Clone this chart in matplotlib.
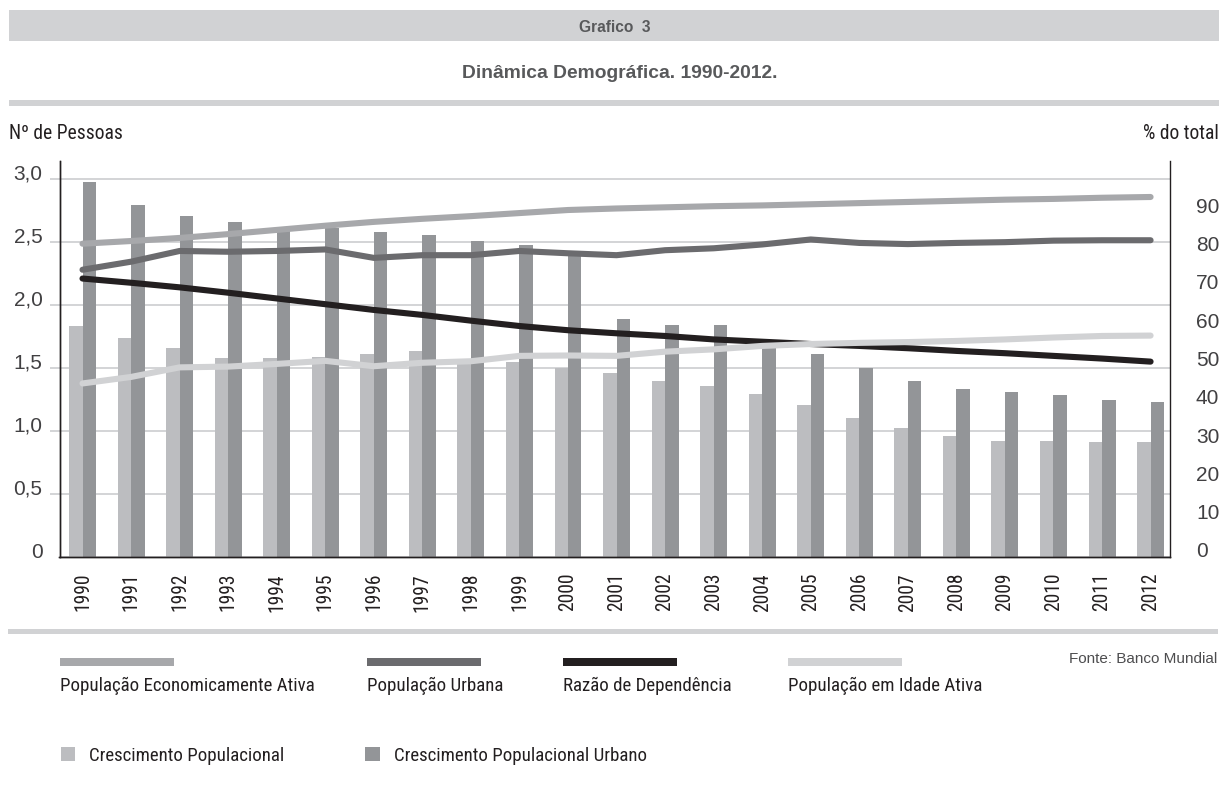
import matplotlib
matplotlib.use('Agg')
import numpy as np
import matplotlib.pyplot as plt
import matplotlib.transforms as mtransforms
from matplotlib import font_manager as fm
from matplotlib.patches import Rectangle

# eixo X
anos = [str(a) for a in range(1990, 2013)]

# barras (eixo esquerdo, Nº de Pessoas)
cresc_pop = [1.83, 1.74, 1.66, 1.58, 1.58, 1.59, 1.61, 1.635, 1.56, 1.55, 1.50, 1.46,
             1.40, 1.36, 1.29, 1.21, 1.10, 1.02, 0.96, 0.92, 0.92, 0.91, 0.91]
cresc_urb = [2.98, 2.79, 2.71, 2.66, 2.61, 2.61, 2.58, 2.555, 2.51, 2.48, 2.42, 1.89,
             1.84, 1.84, 1.70, 1.61, 1.50, 1.40, 1.33, 1.31, 1.285, 1.25, 1.23]

# linhas (eixo direito, % do total)
pea = [80.0, 80.7, 81.5, 82.5, 83.6, 84.7, 85.7, 86.5, 87.2, 88.0, 88.8, 89.2,
       89.5, 89.8, 90.0, 90.3, 90.6, 90.9, 91.2, 91.5, 91.7, 92.0, 92.2]
pop_urbana = [73.2, 75.3, 78.1, 77.9, 78.1, 78.5, 76.3, 77.0, 77.0, 78.1, 77.5, 77.0,
              78.3, 78.8, 79.8, 81.1, 80.2, 79.9, 80.2, 80.4, 80.8, 80.9, 80.9]
razao_dep = [70.9, 69.8, 68.6, 67.2, 65.7, 64.2, 62.7, 61.4, 59.9, 58.5, 57.4, 56.6,
             55.9, 55.0, 54.4, 53.8, 53.3, 52.7, 52.0, 51.4, 50.7, 50.0, 49.2]
pia = [43.5, 45.2, 47.7, 47.9, 48.6, 49.4, 48.0, 48.9, 49.3, 50.7, 50.8, 50.7,
       51.8, 52.4, 53.3, 53.8, 54.1, 54.3, 54.6, 55.0, 55.5, 55.9, 56.0]

ticks_esq = [0, 0.5, 1.0, 1.5, 2.0, 2.5, 3.0]
rotulos_esq = ['0', '0,5', '1,0', '1,5', '2,0', '2,5', '3,0']
ticks_dir = [0, 10, 20, 30, 40, 50, 60, 70, 80, 90]

nomes_linhas = ['População Economicamente Ativa', 'População Urbana',
                'Razão de Dependência', 'População em Idade Ativa']
nomes_barras = ['Crescimento Populacional', 'Crescimento Populacional Urbano']

# cores
C_PEA = '#a7a8ab'
C_URB = '#6b6b6e'
C_RD = '#231f20'
C_PIA = '#d1d2d4'
C_BAR_CLARA = '#bcbdc0'
C_BAR_ESCURA = '#939598'
C_GRID = '#c8c9cb'
C_FAIXA = '#d1d2d4'
C_TEXTO = '#231f20'
C_CINZA = '#58595b'

SANS = ['Liberation Sans', 'DejaVu Sans']

W, H = 1224, 794


def fx(x):
    return x / W


def fy(y):
    return 1 - y / H


def fonte_estreita():
    # procura uma família condensada instalada; senão fica com Roboto
    nomes = sorted({f.name for f in fm.fontManager.ttflist})
    preferidas = ['Liberation Sans Narrow', 'Roboto Condensed', 'Noto Sans Condensed',
                  'Noto Sans SemiCondensed', 'DejaVu Sans Condensed', 'Open Sans Condensed',
                  'Arial Narrow']
    for nome in preferidas:
        if nome in nomes:
            return nome
    for nome in nomes:
        if ('Condensed' in nome or 'Narrow' in nome) and 'Extra' not in nome and 'Mono' not in nome:
            return nome
    return 'Roboto'


def escala_fonte(fig, familia, texto, largura_px, tamanho):
    # ajusta o corpo para que o texto de referência tenha a largura pedida
    r = fig.canvas.get_renderer()
    t = fig.text(0, 0, texto, family=familia, fontsize=tamanho)
    larg = t.get_window_extent(r).width
    t.remove()
    return min(1.0, largura_px / larg)


def plot_grafico_3():
    fig = plt.figure(figsize=(W / 100, H / 100), dpi=100)
    estreita = fonte_estreita()
    NARROW = [estreita, 'DejaVu Sans']
    # um pouco mais largo que o alvo, para não perder altura de letra
    k = escala_fonte(fig, NARROW, nomes_linhas[0], 255, 14)

    ax = fig.add_axes([fx(59.5), fy(557), (1170 - 59.5) / W, (557 - 161) / H])
    ax2 = ax.twinx()

    x = np.arange(len(anos))
    w = 0.278
    ax.bar(x - w / 2, cresc_pop, width=w, color=C_BAR_CLARA, zorder=2)
    ax.bar(x + w / 2, cresc_urb, width=w, color=C_BAR_ESCURA, zorder=2)

    for serie, cor in [(pea, C_PEA), (pop_urbana, C_URB), (razao_dep, C_RD), (pia, C_PIA)]:
        ax2.plot(x, serie, color=cor, lw=4.4, solid_capstyle='round', solid_joinstyle='round')

    ax.set_xlim(-0.474, 22.40)
    ax.set_ylim(0, 3.143)
    ax2.set_ylim(-1.83, 101.6)

    ax.set_axisbelow(True)
    ax.grid(axis='y', color=C_GRID, lw=1.1)
    ax.set_yticks(ticks_esq)
    ax.set_yticklabels(rotulos_esq, family=SANS, fontsize=15, color='#414042')
    ax.tick_params(axis='y', length=7.2, width=1.1, color=C_GRID, pad=5)
    ax.yaxis.get_major_ticks()[0].tick1line.set_visible(False)
    desloc = mtransforms.ScaledTranslation(0, 0.07, fig.dpi_scale_trans)
    for lab in ax.get_yticklabels():
        lab.set_transform(lab.get_transform() + desloc)

    ax.set_xticks(x)
    ax.set_xticklabels(anos, rotation=90, family=NARROW, fontsize=14.5 * k,
                       color=C_TEXTO)
    ax.tick_params(axis='x', length=0, pad=11.5)

    ax2.set_yticks(ticks_dir)
    ax2.set_yticklabels([str(t) for t in ticks_dir], family=SANS, fontsize=15, color='#414042')
    ax2.tick_params(axis='y', length=0, pad=18.7)

    for a in (ax, ax2):
        a.spines['top'].set_visible(False)
        for s in ('left', 'right', 'bottom'):
            a.spines[s].set_color(C_TEXTO)
            a.spines[s].set_linewidth(1.0)
    ax.spines['right'].set_visible(False)

    # cabeçalho
    fig.add_artist(Rectangle((fx(9), fy(40.7)), (1219 - 9) / W, 30.7 / H,
                             transform=fig.transFigure, color=C_FAIXA, lw=0))
    fig.text(fx(615), fy(32.3), 'Grafico  3', family=SANS, fontsize=11.2, weight='bold',
             color=C_CINZA, ha='center', va='baseline')
    fig.text(fx(620), fy(78.3), 'Dinâmica Demográfica. 1990-2012.', family=SANS, fontsize=13.9,
             weight='bold', color=C_CINZA, ha='center', va='baseline')
    fig.add_artist(Rectangle((fx(9), fy(106)), (1219 - 9) / W, 6 / H,
                             transform=fig.transFigure, color=C_FAIXA, lw=0))
    fig.add_artist(Rectangle((fx(8), fy(634)), (1218 - 8) / W, 5 / H,
                             transform=fig.transFigure, color=C_FAIXA, lw=0))

    fig.text(fx(9), fy(139.3), 'Nº de Pessoas', family=NARROW, fontsize=14.5 * k,
             color=C_TEXTO, ha='left', va='baseline')
    fig.text(fx(1219), fy(139.3), '% do total', family=NARROW, fontsize=14.5 * k,
             color=C_TEXTO, ha='right', va='baseline')

    # legenda das linhas
    for nome, cor, x0 in zip(nomes_linhas, [C_PEA, C_URB, C_RD, C_PIA], [59.5, 367, 563, 788]):
        fig.add_artist(Rectangle((fx(x0), fy(665.7)), 114 / W, 7.4 / H,
                                 transform=fig.transFigure, color=cor, lw=0))
        fig.text(fx(x0), fy(690.7), nome, family=NARROW, fontsize=14 * k,
                 color=C_TEXTO, ha='left', va='baseline')

    # legenda das barras
    for nome, cor, x0 in zip(nomes_barras, [C_BAR_CLARA, C_BAR_ESCURA], [60.7, 365]):
        fig.add_artist(Rectangle((fx(x0), fy(760.5)), 14.6 / W, 13.5 / H,
                                 transform=fig.transFigure, color=cor, lw=0))
        fig.text(fx(x0 + 28.6), fy(760.7), nome, family=NARROW, fontsize=14 * k,
                 color=C_TEXTO, ha='left', va='baseline')

    fig.text(fx(1217), fy(662.7), 'Fonte: Banco Mundial', family=SANS, fontsize=11,
             color='#4d4d4f', ha='right', va='baseline')

    fig.savefig('out.png', dpi=100, facecolor='white')
    plt.close(fig)


if __name__ == '__main__':
    plot_grafico_3()
